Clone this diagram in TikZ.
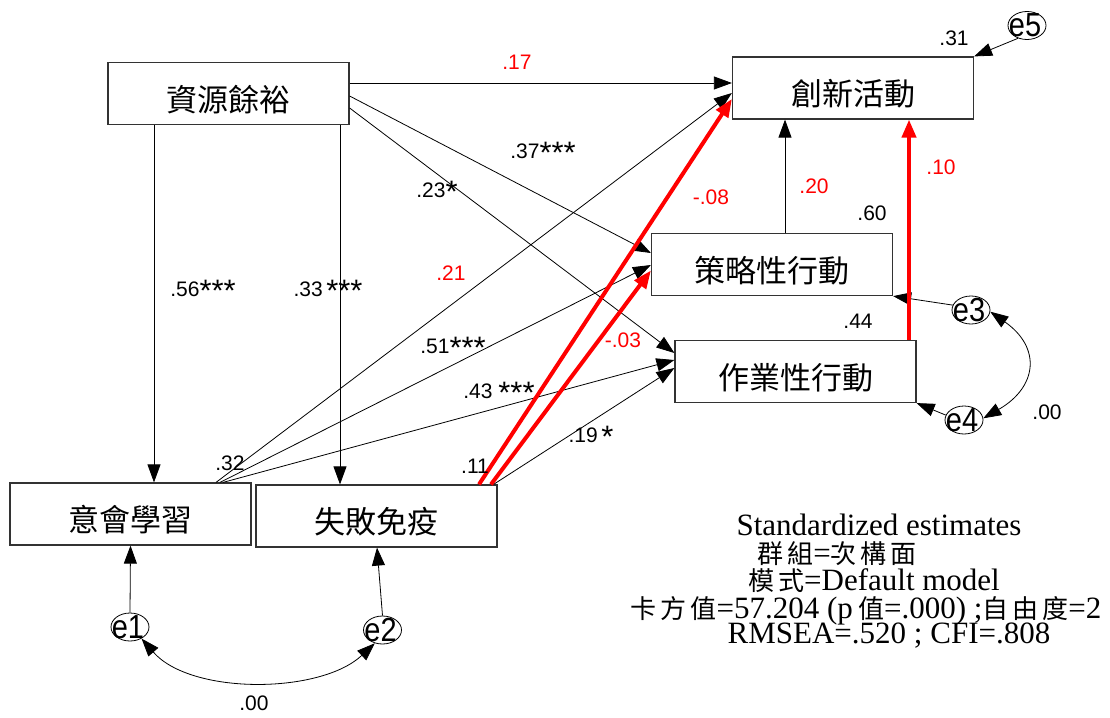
\documentclass[tikz,border=0pt]{standalone}
\usepackage{fontspec}
\setmainfont{Liberation Sans}
\newfontfamily\cjk{Noto Sans CJK TC}
\newfontfamily\capserif{Liberation Serif}
\usetikzlibrary{arrows.meta,shapes.geometric,calc}
\newcommand{\mystar}{\raisebox{-5pt}{\fontsize{31}{31}\selectfont *}}
\newcommand{\hs}{\hspace{4pt}}
\newcommand{\cj}[1]{{\cjk\fontsize{26}{26}\selectfont #1}}
\tikzset{
  box/.style={draw=black!80, line width=1.2pt, inner sep=0pt, minimum width=241pt, minimum height=62pt,
              font=\cjk\fontsize{31}{31}\selectfont, text height=35pt, text depth=0pt},
  errc/.style={ellipse, draw=black, line width=0.8pt, inner sep=0pt, minimum width=38pt, minimum height=28pt},
  etext/.style={font=\fontsize{29}{29}\selectfont, inner sep=0pt, xshift=-2pt},
  lab/.style={font=\fontsize{21}{21}\selectfont, inner sep=0pt},
  rlab/.style={lab, text=red},
  arr/.style={draw=black, line width=0.8pt, -{Triangle[length=18pt,width=13pt]}},
  rarr/.style={draw=red, line width=4pt, -{Triangle[length=18pt,width=14pt]}},
  dbl/.style={draw=black, line width=0.8pt, {Triangle[length=18pt,width=13pt]}-{Triangle[length=18pt,width=13pt]}},
  capt/.style={font=\capserif\fontsize{31}{31}\selectfont, inner sep=0pt, anchor=base}
}
\begin{document}
\begin{tikzpicture}[x=1pt,y=-1pt]
\path[fill=white] (0,0) rectangle (1110,717);
\useasboundingbox (0,0) rectangle (1110,717);

% boxes
\node[box] (zy)  at (228.5,93.5) {資源餘裕};
\node[box] (cx)  at (853,88)     {創新活動};
\node[box] (cl)  at (772,264.5)  {策略性行動};
\node[box] (zyx) at (795.5,371.5){作業性行動};
\node[box] (yh)  at (130.5,514)  {意會學習};
\node[box] (sb)  at (376.5,516)  {失敗免疫};

% error terms
\node[errc, label={[etext]center:\scalebox{1}[1.15]{e5}}] (e5) at (1027,25.5) {};
\node[errc, label={[etext]center:\scalebox{1}[1.15]{e3}}] (e3) at (971,310) {};
\node[errc, label={[etext]center:\scalebox{1}[1.15]{e4}}] (e4) at (964,420) {};
\node[errc, label={[etext]center:\scalebox{1}[1.15]{e1}}] (e1) at (130,627) {};
\node[errc, label={[etext]center:\scalebox{1}[1.15]{e2}}] (e2) at (382.5,630) {};

% black paths
\draw[arr] ($(zy.east)+(0,-10.5)$) -- ($(cx.west)+(0,-5)$);
\draw[arr] ($(zy.east)+(0,2.5)$)   -- ($(cl.west)+(0,-11.5)$);
\draw[arr] ($(zy.east)+(0,14.5)$)  -- ($(zyx.west)+(0,-18.5)$);
\draw[arr] ($(zy.south)+(-74.5,0)$) -- ($(yh.north)+(23.5,0)$);
\draw[arr] ($(zy.south)+(111.5,0)$) -- ($(sb.north)+(-36.5,0)$);
\draw[arr] ($(yh.north)+(85.5,0)$) -- ($(cx.west)+(0,5)$);
\draw[arr] ($(yh.north)+(89.5,0)$) -- ($(cl.west)+(0,0.5)$);
\draw[arr] ($(yh.north)+(92.5,0)$) -- ($(zyx.west)+(0,-11.5)$);
\draw[arr] ($(sb.north)+(117,0)$)  -- ($(zyx.west)+(0,-3.5)$);
\draw[arr] ($(cl.north)+(13,0)$)   -- ($(cx.south)+(-68,0)$);

% error arrows
\draw[arr] (e5.-125) -- (cx.north east);
\draw[arr] (e3.165) -- (cl.south east);
\draw[arr] (e4.165) -- (zyx.south east);
\draw[arr] (e1.north) -- (yh.south);
\draw[arr] (e2.north) -- ($(sb.south)+(0.5,0)$);
\draw[dbl] (e1.-45) to[out=-49, in=-137, looseness=0.82] (e2.-120);
\draw[dbl] (e3.-5) to[out=-35, in=30, looseness=1.5] (e4.5);

% red paths
\draw[rarr] ($(sb.north)+(102.5,0)$) -- ($(cx.west)+(0,11)$);
\draw[rarr] ($(sb.north)+(114.5,0)$) -- ($(cl.west)+(0,6)$);
\draw[rarr] ($(zyx.north)+(113.5,0)$) -- ($(cx.south)+(56,0)$);

% coefficient labels
\node[rlab] (l17) at (517,62) {.17};
\node[lab]  (l37) at (543,153) {.37\mystar\mystar\mystar};
\node[lab]  (l23) at (437,192) {.23\mystar};
\node[lab]  (l56) at (203,291) {.56\mystar\mystar\mystar};
\node[lab]  (l33) at (328,291) {.33\,\mystar\mystar\mystar};
\node[rlab] (l21) at (451,273) {.21};
\node[lab]  (l51) at (453,348) {.51\mystar\mystar\mystar};
\node[lab]  (l43) at (499,393) {.43 \mystar\mystar\mystar};
\node[lab]  (l32) at (230,463) {.32};
\node[lab]  (l11) at (475,466) {.11};
\node[lab]  (l19) at (591,437) {.19\,\mystar};
\node[rlab] (l08) at (711,197) {-.08};
\node[rlab] (l03) at (623,340) {-.03};
\node[rlab] (l20) at (814,186) {.20};
\node[rlab] (l10) at (941,167) {.10};
\node[lab]  (l60) at (872,213) {.60};
\node[lab]  (l31) at (954,38) {.31};
\node[lab]  (l44) at (858,321) {.44};
\node[lab]  (l00a) at (1047,412) {.00};
\node[lab]  (l00b) at (254,703) {.00};

% caption
\node[capt] (c1) at (879,535) {Standardized estimates};
\node[capt] (c2) at (837,563) {\cj{群\hs 組}=\cj{次\hs 構\hs 面}};
\node[capt] (c3) at (874,590) {\cj{模\hs 式}=Default model};
\node[capt] (c4) at (866,618) {\cj{卡\hs 方\hs 值}=57.204 (p\,\cj{值}=.000) ;\cj{自\hs 由\hs 度}=2};
\node[capt] (c5) at (889,643) {RMSEA=.520 ; CFI=.808};
\end{tikzpicture}
\end{document}
